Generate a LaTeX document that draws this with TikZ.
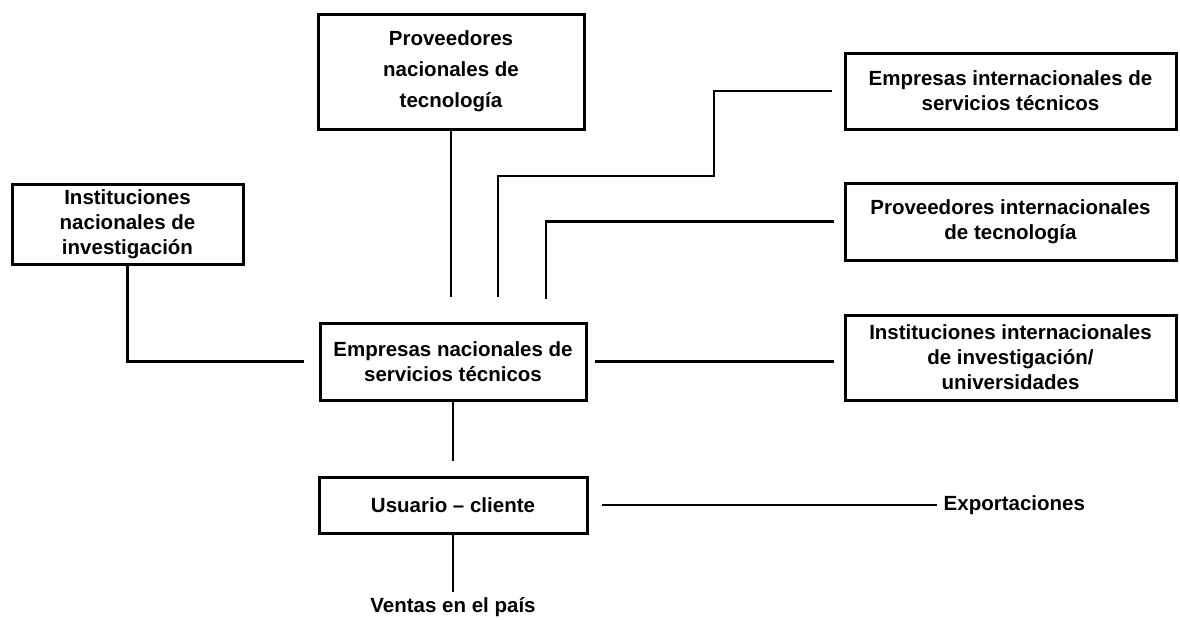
\documentclass[tikz,border=0pt]{standalone}
\usepackage{fontspec}
\setmainfont{Liberation Sans}
\usetikzlibrary{positioning}

\begin{document}
\begin{tikzpicture}[x=1pt, y=-1pt,
                    caja/.style={draw, line width=3pt, align=center, inner sep=0pt,
                                 font=\fontsize{20.5}{25}\selectfont\bfseries},
                    texto/.style={inner sep=0pt, font=\fontsize{20.5}{25}\selectfont\bfseries},
                    linea/.style={line width=2.8pt}]
    \useasboundingbox (0,0) rectangle (1180,619);
    % cajas
    \node[caja, minimum width=266pt, minimum height=115pt,
          font=\fontsize{20.5}{31}\selectfont\bfseries] (provnac) at (451,71.5)
        {Proveedores\\ nacionales de\\ tecnología};
    \node[caja, minimum width=231pt, minimum height=80pt] (instnac) at (127.5,224)
        {Instituciones\\ nacionales de\\ investigación};
    \node[caja, minimum width=266pt, minimum height=77pt] (central) at (453,361.5)
        {Empresas nacionales de\\ servicios técnicos};
    \node[caja, minimum width=331pt, minimum height=76pt] (empint) at (1010.5,91)
        {Empresas internacionales de\\ servicios técnicos};
    \node[caja, minimum width=331pt, minimum height=77pt] (provint) at (1010.5,221.5)
        {Proveedores internacionales\\ de tecnología};
    \node[caja, minimum width=331pt, minimum height=85pt] (instint) at (1010.5,357.5)
        {Instituciones internacionales\\ de investigación/\\ universidades};
    \node[caja, minimum width=268pt, minimum height=56pt] (usuario) at (453,505)
        {Usuario -- cliente};
    \node[texto, anchor=west, right=355pt of usuario] (export) {Exportaciones};
    \node[texto, anchor=north] (ventas) at (453,597) {Ventas en el país};
    % puntos de quiebre
    \coordinate (e1) at (498,176);
    \coordinate (e2) at (714,176);
    \coordinate (p1) at (546,222);
    % enlaces
    \draw[linea, shorten >=25pt] (provnac.south) -- (provnac.south |- central.north);
    \draw[linea, shorten <=25pt, shorten >=12pt] (e1 |- central.north) |- (e2) |- (empint.west);
    \draw[linea, shorten <=23pt, shorten >=10pt] (p1 |- central.north) |- (provint.west);
    \draw[linea, shorten >=15pt] (instnac.south) |- (central.west);
    \draw[linea, shorten <=7pt, shorten >=10pt] (central.east) -- (central.east -| instint.west);
    \draw[linea, shorten >=15pt] (central.south) -- (usuario.north);
    \draw[linea, shorten <=13pt, shorten >=7pt] (usuario.east) -- (export.west);
    \draw[linea, shorten >=5pt] (usuario.south) -- (ventas.north);
\end{tikzpicture}
\end{document}
